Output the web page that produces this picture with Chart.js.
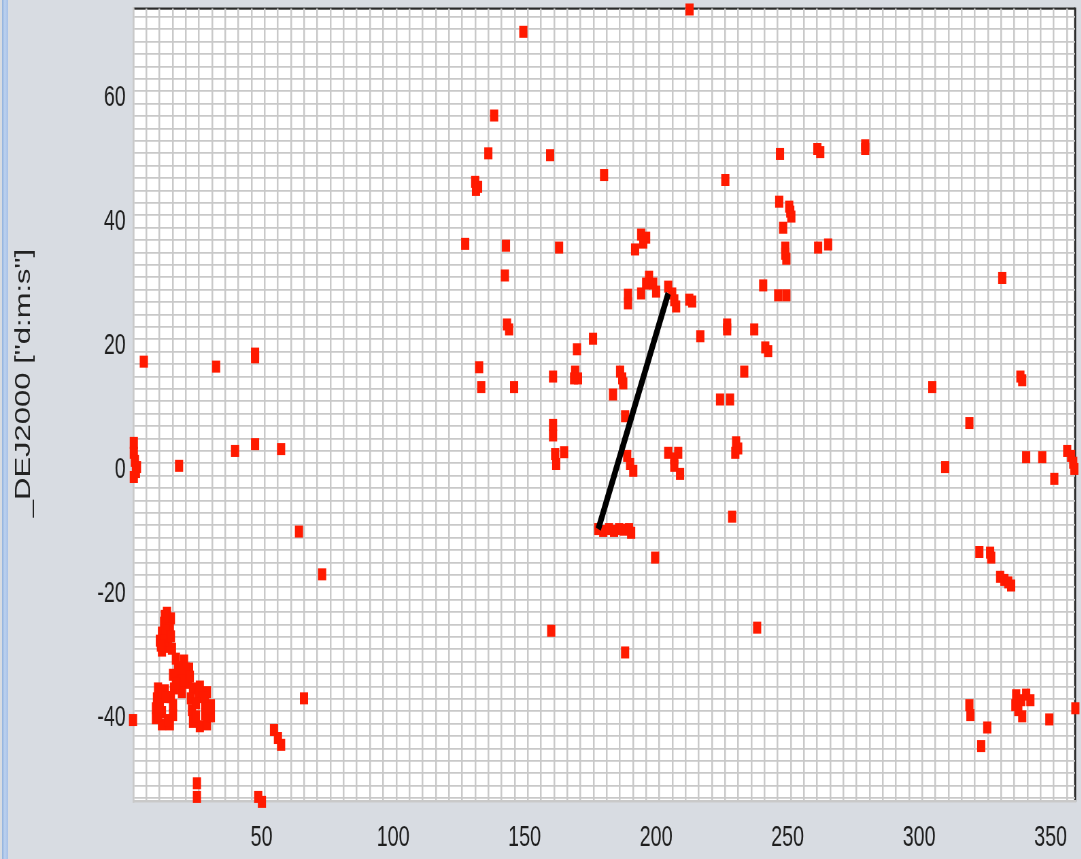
<!DOCTYPE html>
<html>
<head>
<meta charset="utf-8">
<title>DEJ2000 vs RA</title>
<script src="https://cdn.jsdelivr.net/npm/chart.js@4.4.0/dist/chart.umd.min.js"></script>
<style>
  html, body { margin: 0; padding: 0; width: 1081px; height: 859px; overflow: hidden; background: #d8dce2; }
  /* the plot is laid out wide and condensed horizontally, like the source viewer */
  #frame { position: absolute; left: 0; top: 0; width: 1590px; height: 859px; transform: scaleX(0.68); transform-origin: 0 0; }
  #edge { position: absolute; left: 2px; top: 0; width: 6px; height: 859px;
          background: linear-gradient(to right, #8fb0dc, #bcd1ef 45%, #a7c1e7); }
</style>
</head>
<body>
<div id="frame"><canvas id="c"></canvas></div>
<div id="edge"></div>
<script>
// Source positions: right ascension (deg) and declination (deg)
const raDeg = [
  212.7, 149.5, 138.4, 136.2, 159.7, 131.2, 132.3, 131.5, 180.2, 226.3,
  247.1, 261.3, 262.4, 279.5, 279.5, 246.8, 248.3, 250.6, 251.0, 251.4,
  249.1, 249.1, 249.5, 261.6, 265.4, 246.4, 249.5, 240.7, 241.5, 242.6,
  237.3, 227.0, 227.0, 233.5, 224.3, 228.1, 230.4, 231.2, 230.1, 228.9,
  238.4, 216.8, 212.6, 213.7,
  189.3, 189.3, 194.3, 196.2, 197.3, 198.9, 200.0, 204.6, 206.1, 206.9,
  207.6, 176.0, 169.9, 160.8, 169.2, 170.3, 168.8, 186.3, 187.1, 187.5,
  183.6, 188.2, 160.8, 160.8, 161.6, 162.0, 165.0, 189.0, 190.1, 191.3,
  204.6, 206.9, 208.4, 206.9, 209.1, 178.0, 179.9, 182.1, 184.0, 185.9,
  187.8, 189.7, 190.5, 199.6, 194.3, 196.2, 195.1, 192.0, 188.2, 160.1,
  127.4, 132.7, 133.5, 142.9, 142.5, 143.3, 144.1, 146.0, 163.1,
  5.2, 32.7, 47.5, 47.5, 39.9, 47.5, 57.4, 18.6, 1.4, 1.4,
  1.8, 2.6, 2.2, 1.4, 64.2, 73.0, 1.1, 66.1,
  14.0, 15.5, 12.9, 15.1, 12.1, 14.4, 11.3, 13.6, 15.9, 12.1,
  13.2, 13.6, 12.9, 15.5, 11.7,
  17.4, 20.5, 22.4, 18.2, 20.8, 16.3, 18.9, 22.0, 16.7, 19.7,
  19.3, 19.7, 21.2, 17.4, 22.7,
  10.6, 13.2, 10.2, 15.5, 9.8, 9.8, 12.1, 15.1, 16.3, 16.3,
  12.1, 12.1, 14.4, 11.3, 13.6, 10.6,
  23.9, 26.5, 29.2, 23.1, 23.5, 23.9, 26.5, 29.2, 30.7, 30.7, 28.5,
  26.2, 25.0, 28.5, 27.7, 25.0, 29.6,
  54.7, 56.2, 57.4, 25.4, 25.4, 48.7, 50.1,
  305.0, 309.9, 331.6, 319.1, 338.5, 339.2, 340.7, 346.8, 351.4, 356.3,
  357.8, 358.6, 359.0, 322.9, 327.0, 327.4, 330.8, 332.4, 333.9, 335.0,
  319.1, 319.5, 325.9, 323.6, 336.9, 338.8, 340.7, 342.3, 337.7, 339.2,
  336.6, 349.5, 359.4
];
const decDeg = [
  74.2, 70.6, 57.1, 51.0, 50.7, 46.4, 45.6, 45.1, 47.5, 46.7,
  50.9, 51.7, 51.2, 52.3, 51.7, 43.2, 39.0, 42.4, 41.6, 40.8,
  35.8, 34.8, 34.0, 35.8, 36.3, 28.1, 28.1, 29.7, 19.7, 19.1,
  22.6, 23.4, 22.6, 15.8, 11.3, 11.3, 4.4, 3.4, 2.7, -7.6,
  -25.5, 21.5, 27.4, 27.1,
  28.2, 26.8, 28.4, 30.0, 31.1, 30.0, 28.7, 29.5, 28.4, 27.3,
  26.3, 21.1, 19.4, 15.0, 15.8, 14.7, 14.7, 15.8, 14.7, 13.9,
  12.1, 8.6, 7.2, 5.5, 2.5, 0.9, 2.8, 2.2, 0.9, -0.2,
  2.7, 1.8, 2.7, 0.6, -0.7, -9.6, -9.9, -9.6, -9.9, -9.6,
  -9.7, -9.6, -10.2, -14.2, 37.9, 37.4, 36.6, 35.5, -29.5, -26.0,
  36.4, 16.5, 13.3, 36.1, 31.3, 23.4, 22.6, 13.3, 35.8,
  17.4, 16.6, 18.7, 18.1, 3.0, 4.1, 3.3, 0.6, 4.3, 2.7,
  1.4, 0.4, -0.4, -1.2, -10.0, -16.9, -40.4, -36.9,
  -23.1, -24.0, -24.7, -25.6, -26.3, -27.0, -27.6, -28.6, -28.9, -29.2,
  -23.6, -26.0, -27.6, -26.9, -28.4,
  -30.5, -30.8, -32.1, -31.9, -33.4, -33.1, -34.4, -34.4, -35.3, -35.9,
  -32.7, -34.0, -32.1, -34.5, -33.4,
  -35.3, -35.6, -36.9, -36.7, -38.5, -40.1, -41.1, -41.1, -39.6, -38.0,
  -36.4, -39.1, -40.4, -37.9, -36.7, -39.6,
  -35.3, -35.0, -35.9, -36.9, -38.8, -40.7, -41.4, -41.1, -39.8, -38.0, -37.7,
  -36.4, -39.8, -39.5, -36.7, -37.7, -38.5,
  -42.0, -43.3, -44.4, -50.6, -52.8, -52.8, -53.6,
  13.3, 0.4, 30.9, 7.5, 15.0, 14.4, 2.0, 2.0, -1.5, 3.0,
  2.2, 1.1, 0.1, -13.3, -13.4, -14.2, -17.3, -17.8, -18.2, -18.7,
  -38.0, -39.6, -41.6, -44.6, -36.4, -37.2, -36.3, -37.2, -38.8, -39.8,
  -38.0, -40.3, -38.5
];

// Connecting segment between two sources
const pathRa = [178.0, 204.6];
const pathDec = [-9.6, 28.4];

// Axes
const xTickLabels = [50, 100, 150, 200, 250, 300, 350];
const yTickLabels = [-40, -20, 0, 20, 40, 60];
const xRange = [1.2, 359.3];
const yRange = [-53.57, 74.36];
const xGridStart = 1.2, xGridStep = 5;
const yGridStart = -53, yGridStep = 2;
const yTitle = '_DEJ2000 ["d:m:s"]';

const FONT = '"Liberation Sans", Arial, sans-serif';
const GRID = '#c9c9c9';

function gridValues(start, end, step) {
  const out = [];
  for (let v = start; v <= end + 1e-9; v += step) out.push({ value: +v.toFixed(3) });
  return out;
}

const plotFrame = {
  id: 'plotFrame',
  beforeDraw(chart) {
    const { ctx, chartArea: a } = chart;
    ctx.save();
    ctx.fillStyle = '#ffffff';
    ctx.fillRect(a.left, a.top, a.right - a.left, a.bottom - a.top);
    ctx.fillStyle = '#2a2a2a';
    ctx.fillRect(a.left, a.top - 1, a.right - a.left, 2.2);
    ctx.fillRect(a.right - 1.5, a.top - 1, 3, a.bottom - a.top + 1);
    ctx.restore();
  },
  afterDraw(chart) {
    const { ctx } = chart;
    ctx.save();
    ctx.translate(35, 383);
    ctx.rotate(-Math.PI / 2);
    ctx.font = '31px ' + FONT;
    ctx.fillStyle = '#222222';
    ctx.textAlign = 'center';
    ctx.textBaseline = 'middle';
    ctx.fillText(yTitle, 0, 0);
    ctx.restore();
  }
};

// keep the axis boxes from reserving label overhang at the plot edges
function noOverhang(s) {
  s.paddingTop = 0; s.paddingBottom = 0; s.paddingLeft = 0; s.paddingRight = 0;
}

new Chart(document.getElementById('c'), {
  type: 'scatter',
  data: {
    datasets: [
      {
        label: 'path',
        type: 'line',
        data: pathRa.map((x, i) => ({ x, y: pathDec[i] })),
        borderColor: '#000000',
        borderWidth: 8,
        pointRadius: 0,
        fill: false,
        order: 0,
        clip: false,
        xAxisID: 'x',
        yAxisID: 'y'
      },
      {
        label: 'sources',
        data: raDeg.map((x, i) => ({ x, y: decDeg[i] })),
        pointStyle: 'rect',
        pointRadius: 8.5,
        pointHoverRadius: 8.5,
        backgroundColor: '#ff1a00',
        borderWidth: 0,
        order: 1,
        clip: false,
        xAxisID: 'x',
        yAxisID: 'y'
      }
    ]
  },
  options: {
    responsive: true,
    maintainAspectRatio: false,
    animation: false,
    events: [],
    layout: { padding: { top: 6, right: 9, left: 0, bottom: 0 } },
    plugins: { legend: { display: false }, tooltip: { enabled: false } },
    scales: {
      x: {
        type: 'linear', axis: 'x', position: 'bottom', weight: 1,
        min: xRange[0], max: xRange[1],
        grid: { display: false, drawTicks: false },
        border: { display: false },
        ticks: { autoSkip: false, maxRotation: 0, padding: 19, color: '#1e1e1e', font: { family: FONT, size: 29 } },
        afterBuildTicks: s => { s.ticks = xTickLabels.map(v => ({ value: v })); },
        afterFit: s => { s.height = 57.3; noOverhang(s); }
      },
      xGrid: {
        type: 'linear', axis: 'x', position: 'bottom', weight: 0,
        min: xRange[0], max: xRange[1],
        ticks: { display: false },
        grid: { color: GRID, lineWidth: 2.5, drawTicks: false },
        border: { display: true, color: GRID, width: 2.5 },
        afterBuildTicks: s => { s.ticks = gridValues(xGridStart, xRange[1], xGridStep); },
        afterFit: s => { s.height = 0; noOverhang(s); }
      },
      y: {
        type: 'linear', axis: 'y', position: 'left', weight: 1,
        min: yRange[0], max: yRange[1],
        grid: { display: false, drawTicks: false },
        border: { display: false },
        ticks: { autoSkip: false, padding: 11, color: '#1e1e1e', font: { family: FONT, size: 29 } },
        afterBuildTicks: s => { s.ticks = yTickLabels.map(v => ({ value: v })); },
        afterFit: s => { s.width = 196; noOverhang(s); }
      },
      yGrid: {
        type: 'linear', axis: 'y', position: 'left', weight: 0,
        min: yRange[0], max: yRange[1],
        ticks: { display: false },
        grid: { color: GRID, lineWidth: 1.8, drawTicks: false },
        border: { display: true, color: GRID, width: 2.5 },
        afterBuildTicks: s => { s.ticks = gridValues(yGridStart, yRange[1], yGridStep); },
        afterFit: s => { s.width = 0; noOverhang(s); }
      }
    }
  },
  plugins: [plotFrame]
});
</script>
</body>
</html>
